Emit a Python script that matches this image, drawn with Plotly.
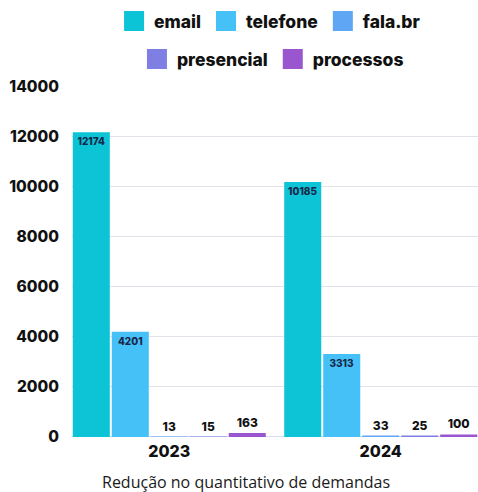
import plotly.graph_objects as go

categories = ["2023", "2024"]
series_names = ["email", "telefone", "fala.br", "presencial", "processos"]
email = [12174, 10185]
telefone = [4201, 3313]
fala_br = [13, 33]
presencial = [15, 25]
processos = [163, 100]
y_ticks = [0, 2000, 4000, 6000, 8000, 10000, 12000, 14000]
y_tick_labels = [str(v) for v in y_ticks]
x_title = "Redução no quantitativo de demandas"

values = [email, telefone, fala_br, presencial, processos]
colors = ["#0cc4d6", "#46c1f8", "#5fa6f5", "#7e7ee3", "#9a56cf"]

W, H = 478, 492
fig = go.Figure()
for i, (name, vals, col) in enumerate(zip(series_names, values, colors)):
    fig.add_trace(go.Bar(
        x=categories, y=vals, name=name, showlegend=False,
        marker=dict(color=col, line=dict(width=0)),
        text=[str(v) for v in vals], textposition="auto",
        insidetextanchor="end",
        insidetextfont=dict(family="Inter", size=10, color="#17264a", weight=800),
        outsidetextfont=dict(family="Inter", size=12, color="#111111", weight=800),
        cliponaxis=False, constraintext="none",
    ))
    fig.add_trace(go.Scatter(
        x=[None], y=[None], mode="markers", name=name,
        marker=dict(symbol="square", size=16, color=col, line=dict(color=col, width=4)),
        legend="legend" if i < 3 else "legend2",
    ))

legend_font = dict(family="Inter", size=17.5, color="#111111", weight=800)
fig.update_layout(
    width=W, height=H,
    margin=dict(l=72, r=0, t=83, b=55),
    paper_bgcolor="white", plot_bgcolor="white",
    barmode="group", bargap=0.078, bargroupgap=0.05,
    legend=dict(orientation="h", x=0.565, xanchor="center", y=1 - 21 / H, yanchor="middle",
                xref="container", yref="container", font=legend_font, itemclick=False),
    legend2=dict(orientation="h", x=0.571, xanchor="center", y=1 - 59 / H, yanchor="middle",
                 xref="container", yref="container", font=legend_font, itemclick=False),
    xaxis=dict(range=[-0.46, 1.46], showgrid=False, zeroline=False, showline=False,
               tickfont=dict(family="Inter", size=16, color="#111111", weight=800),
               ticklabelstandoff=3),
    yaxis=dict(range=[0, 14000], tickvals=y_ticks, ticktext=y_tick_labels,
               showgrid=True, gridcolor="#e2e2ea",
               gridwidth=1, zeroline=True, zerolinecolor="#dcdcef", zerolinewidth=1,
               tickfont=dict(family="Inter", size=15.5, color="#111111", weight=800),
               ticklabelstandoff=12),
    annotations=[dict(text=x_title, xref="paper", yref="paper",
                      x=(246 - 72) / 406, y=-(482 - 437) / 354,
                      xanchor="center", yanchor="middle", showarrow=False,
                      font=dict(family="Open Sans", size=16, color="#1a1a1a"))],
)
fig.write_html("out.html")
